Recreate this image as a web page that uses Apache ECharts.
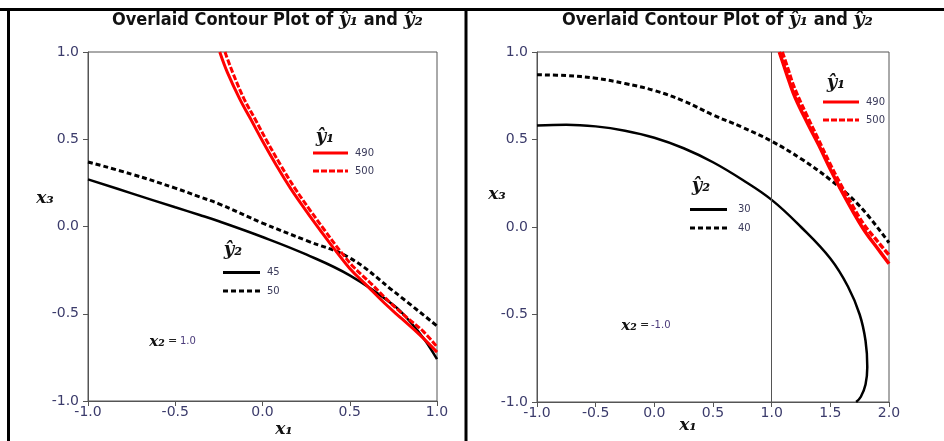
<!DOCTYPE html>
<html>
<head>
<meta charset="utf-8">
<script src="https://cdn.jsdelivr.net/npm/echarts@6/dist/echarts.min.js"></script>
<style>
html,body{margin:0;padding:0;background:#fff;}
#chart{width:944px;height:441px;}
</style>
</head>
<body>
<div id="chart"></div>
<script>
// ---- Data ----
// Left panel, x2 = 1.0
const leftY1_490 = [[-0.245,1.0],[-0.2,0.88],[-0.13,0.73],[-0.07,0.62],[0.0,0.49],[0.08,0.35],[0.16,0.22],[0.25,0.09],[0.33,-0.02],[0.42,-0.14],[0.5,-0.24],[0.6,-0.34],[0.7,-0.44],[0.8,-0.53],[0.9,-0.62],[1.0,-0.72]];
const leftY1_500 = [[-0.215,1.0],[-0.17,0.88],[-0.105,0.73],[-0.045,0.62],[0.025,0.49],[0.105,0.35],[0.185,0.22],[0.275,0.09],[0.355,-0.02],[0.445,-0.14],[0.525,-0.235],[0.625,-0.33],[0.725,-0.43],[0.825,-0.52],[0.92,-0.60],[1.0,-0.69]];
const leftY2_45 = [[-1.0,0.27],[-0.75,0.19],[-0.5,0.11],[-0.36,0.066],[-0.25,0.03],[0.0,-0.06],[0.25,-0.16],[0.5,-0.28],[0.75,-0.45],[0.85,-0.55],[0.93,-0.65],[1.0,-0.76]];
const leftY2_50 = [[-1.0,0.37],[-0.75,0.30],[-0.5,0.22],[-0.36,0.17],[-0.25,0.13],[0.0,0.02],[0.25,-0.08],[0.5,-0.18],[0.75,-0.37],[1.0,-0.57]];
// Right panel, x2 = -1.0
const rightY1_490 = [[1.065,1.0],[1.1,0.93],[1.15,0.83],[1.2,0.74],[1.3,0.6],[1.4,0.47],[1.5,0.33],[1.6,0.20],[1.7,0.08],[1.8,-0.03],[1.9,-0.12],[2.0,-0.21]];
const rightY1_500 = [[1.09,1.0],[1.14,0.9],[1.19,0.8],[1.29,0.65],[1.39,0.51],[1.49,0.37],[1.59,0.24],[1.69,0.12],[1.79,0.01],[1.9,-0.08],[2.0,-0.16]];
const rightY2_30 = [[-1.0,0.58],[-0.75,0.585],[-0.5,0.575],[-0.25,0.55],[0.0,0.51],[0.25,0.45],[0.5,0.37],[0.75,0.27],[1.0,0.155],[1.25,0.0],[1.5,-0.18],[1.65,-0.34],[1.75,-0.5],[1.8,-0.65],[1.815,-0.8],[1.8,-0.9],[1.76,-0.97],[1.72,-1.0]];
const rightY2_40 = [[-1.0,0.87],[-0.75,0.865],[-0.5,0.85],[-0.25,0.82],[0.0,0.78],[0.25,0.72],[0.5,0.64],[0.75,0.57],[1.0,0.49],[1.25,0.39],[1.5,0.27],[1.75,0.12],[2.0,-0.09]];
const refLineX = 1.0;

const leftX = {min:-1, max:1, interval:0.5};
const rightX = {min:-1, max:2, interval:0.5};
const yRange = {min:-1, max:1, interval:0.5};
const titleText = 'Overlaid Contour Plot of ';
const y1Name = 'ŷ₁', y2Name = 'ŷ₂';

// ---- Styles ----
const tickColor = '#3b3b6b';
const axisColor = '#555';
const serif = 'DejaVu Serif';
const sans = 'DejaVu Sans';

function xAxis(gi, r){
  return {type:'value', gridIndex:gi, min:r.min, max:r.max, interval:r.interval,
    axisLine:{show:true, onZero:false, lineStyle:{color:axisColor, width:1}},
    axisTick:{show:true, length:5, lineStyle:{color:axisColor}},
    splitLine:{show:false},
    axisLabel:{margin:4, color:tickColor, fontFamily:sans, fontSize:14, formatter:v=>v.toFixed(1)}};
}
function yAxis(gi, r){
  return {type:'value', gridIndex:gi, min:r.min, max:r.max, interval:r.interval,
    axisLine:{show:true, onZero:false, lineStyle:{color:axisColor, width:1}},
    axisTick:{show:true, length:5, lineStyle:{color:axisColor}},
    splitLine:{show:false},
    axisLabel:{margin:9, color:tickColor, fontFamily:sans, fontSize:14, formatter:v=>v.toFixed(1)}};
}
function curve(gi, data, color, dashed, width){
  return {type:'line', xAxisIndex:gi, yAxisIndex:gi, data:data, smooth:0.4,
    symbol:'none', silent:true, clip:true,
    lineStyle:{color:color, width:width, type: dashed ? (color==='#ff0000'?[6,2]:[5,3]) : 'solid'}};
}
function titleRich(cx){
  return {type:'text', left:cx, top:11, style:{
    text:'{n|'+titleText+'}{y|'+y1Name+'}{n| and }{y|'+y2Name+'}',
    rich:{
      n:{fontFamily:'DejaVu Sans Condensed, DejaVu Sans', fontWeight:'bold', fontSize:18, fill:'#111'},
      y:{fontFamily:serif, fontStyle:'italic', fontWeight:'bold', fontSize:19, fill:'#111'}
    }}};
}
function label(x, y, t, size){
  return {type:'text', x:x, y:y, style:{text:t, fontFamily:serif, fontStyle:'italic', fontWeight:'bold', fontSize:size||17, fill:'#111', align:'center', verticalAlign:'middle'}};
}
function small(x, y, t, color){
  return {type:'text', x:x, y:y, style:{text:t, fontFamily:sans, fontSize:10, fill:color||'#3a3a5a', align:'left', verticalAlign:'middle'}};
}
function swatch(x1, x2, y, color, dashed, w){
  return {type:'line', shape:{x1:x1, y1:y, x2:x2, y2:y}, style:{stroke:color, lineWidth:w, lineDash: dashed ? (color==='#ff0000'?[6,2]:[5,3]) : null}};
}

const chart = echarts.init(document.getElementById('chart'), null, {renderer:'canvas'});
const option = {
  animation:false,
  backgroundColor:'#fff',
  grid:[
    {left:88, top:52, width:349, height:349, show:true, borderColor:axisColor, borderWidth:1, containLabel:false},
    {left:537, top:52, width:352, height:350, show:true, borderColor:axisColor, borderWidth:1, containLabel:false}
  ],
  xAxis:[xAxis(0,leftX), xAxis(1,rightX)],
  yAxis:[yAxis(0,yRange), yAxis(1,yRange)],
  series:[
    curve(0, leftY2_45, '#000', false, 2.5),
    curve(0, leftY2_50, '#000', true, 3),
    curve(0, leftY1_490, '#ff0000', false, 3),
    curve(0, leftY1_500, '#ff0000', true, 3),
    curve(1, rightY2_30, '#000', false, 2.5),
    curve(1, rightY2_40, '#000', true, 3),
    curve(1, rightY1_490, '#ff0000', false, 3.5),
    curve(1, rightY1_500, '#ff0000', true, 3.5),
    {type:'line', xAxisIndex:1, yAxisIndex:1, data:[], symbol:'none',
      markLine:{silent:true, symbol:'none', label:{show:false}, lineStyle:{color:axisColor, width:1, type:'solid'}, data:[{xAxis:refLineX}]}}
  ],
  graphic:[
    // frame
    {type:'line', shape:{x1:0, y1:9.5, x2:944, y2:9.5}, style:{stroke:'#000', lineWidth:3}},
    {type:'line', shape:{x1:8.5, y1:9, x2:8.5, y2:441}, style:{stroke:'#000', lineWidth:3}},
    {type:'line', shape:{x1:466, y1:9, x2:466, y2:441}, style:{stroke:'#000', lineWidth:3}},
    titleRich(112),
    titleRich(562),
    // axis names
    label(284, 430, 'x₁'),
    label(45, 199, 'x₃'),
    label(688, 426, 'x₁'),
    label(497, 195, 'x₃'),
    // x2 notes
    label(157, 342, 'x₂', 15),
    {type:'text', x:168, y:341, style:{text:'=', fontFamily:sans, fontSize:11, fill:'#222', verticalAlign:'middle'}},
    small(180, 341, '1.0', '#4a3a7a'),
    label(629, 326, 'x₂', 15),
    {type:'text', x:640, y:325, style:{text:'=', fontFamily:sans, fontSize:11, fill:'#222', verticalAlign:'middle'}},
    small(651, 325, '-1.0', '#4a3a7a'),
    // left legends
    label(325, 137, y1Name, 18),
    swatch(313, 348, 153, '#ff0000', false, 3),
    small(355, 153, '490'),
    swatch(313, 348, 171, '#ff0000', true, 3),
    small(355, 171, '500'),
    label(233, 250, y2Name, 18),
    swatch(223, 260, 272.5, '#000', false, 3),
    small(267, 272.5, '45'),
    swatch(223, 260, 291, '#000', true, 3),
    small(267, 291, '50'),
    // right legends
    label(836, 83, y1Name, 18),
    swatch(823, 859, 102, '#ff0000', false, 3),
    small(866, 102, '490'),
    swatch(823, 859, 120, '#ff0000', true, 3),
    small(866, 120, '500'),
    label(701, 186, y2Name, 18),
    swatch(690, 727, 209.5, '#000', false, 3),
    small(738, 209.5, '30'),
    swatch(690, 727, 228, '#000', true, 3),
    small(738, 228, '40')
  ]
};
chart.setOption(option);
</script>
</body>
</html>
